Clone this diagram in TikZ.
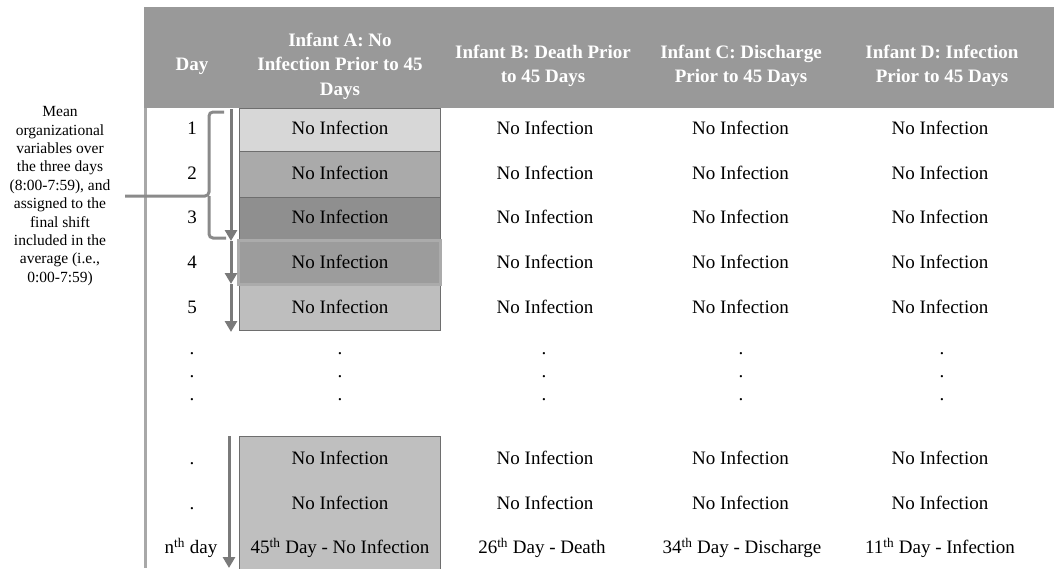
\documentclass[tikz,border=0pt]{standalone}
\usepackage{fontspec}
\setmainfont{Liberation Serif}
\usetikzlibrary{arrows.meta}
\definecolor{hdr}{HTML}{999999}
\definecolor{cA}{HTML}{D7D7D7}
\definecolor{cB}{HTML}{AAAAAA}
\definecolor{cC}{HTML}{8F8F8F}
\definecolor{cD}{HTML}{9C9C9C}
\definecolor{cDb}{HTML}{ABABAB}
\definecolor{cE}{HTML}{BEBEBE}
\definecolor{cF}{HTML}{BFBFBF}
\definecolor{bord}{HTML}{6E6E6E}
\definecolor{bracec}{HTML}{8A8A8A}
\definecolor{arrc}{HTML}{7A7A7A}
\definecolor{tbord}{HTML}{A8A8A8}
\tikzset{
  hdrtext/.style={text=white, font=\fontsize{19}{24.5}\selectfont\bfseries, align=center, inner sep=0pt},
  bodytext/.style={font=\fontsize{19}{22}\selectfont, anchor=base, inner sep=0pt},
  annot/.style={font=\fontsize{15.5}{18.4}\selectfont, align=center, inner sep=0pt},
  abox/.style={draw=bord, line width=1pt, inner sep=0pt},
  bracepath/.style={draw=bracec, line width=3pt, rounded corners=4pt},
  dayarrow/.style={draw=arrc, line width=3pt, -{Triangle[width=12pt,length=11pt]}},
}
\begin{document}
\begin{tikzpicture}[x=1pt,y=-1pt]
\useasboundingbox (0,0) rectangle (1054,568);
% header
\node[fill=hdr, inner sep=0pt, minimum width=910pt, minimum height=101pt] (hdrbar) at (599,57.5) {};
\node[hdrtext] (hday) at (192,66) {Day};
\node[hdrtext] (hA) at (340,66) {Infant A: No\\Infection Prior to 45\\Days};
\node[hdrtext] (hB) at (543,66) {Infant B: Death Prior\\to 45 Days};
\node[hdrtext] (hC) at (741,66) {Infant C: Discharge\\Prior to 45 Days};
\node[hdrtext] (hD) at (942,66) {Infant D: Infection\\Prior to 45 Days};
% left border of table
\coordinate (bt) at (145,108);
\coordinate (bb) at (145,568);
\draw[tbord, line width=3pt] (bt) -- (bb);
% Infant A boxes
\node[abox, fill=cA, minimum width=201pt, minimum height=43pt] (a1) at (339.5,129.5) {};
\node[abox, fill=cB, minimum width=201pt, minimum height=46pt] (a2) at (339.5,174) {};
\node[abox, fill=cC, minimum width=201pt, minimum height=43pt] (a3) at (339.5,218.5) {};
\node[abox, fill=cE, minimum width=201pt, minimum height=45pt] (a5) at (339.5,307.5) {};
\node[draw=cDb, fill=cD, line width=3pt, inner sep=0pt, minimum width=202pt, minimum height=44pt] (a4) at (339.5,262.5) {};
\node[abox, fill=cF, minimum width=201pt, minimum height=134pt] (a6) at (339.5,503) {};
% brace
\coordinate (br1) at (224,112);
\coordinate (br2) at (209,112);
\coordinate (br3) at (209,196);
\coordinate (brtip) at (125,196);
\coordinate (br4) at (209,238);
\coordinate (br5) at (226,238);
\draw[bracepath] (br1) -- (br2) -- (br3) -- (brtip);
\draw[bracepath] (br3) -- (br4) -- (br5);
% arrows
\coordinate (ar0) at (231,109);
\coordinate (ar1) at (231,241);
\coordinate (ar2) at (231,284);
\coordinate (ar3) at (231,332);
\draw[dayarrow] (ar0) -- (ar1);
\draw[dayarrow] (ar1) -- (ar2);
\draw[dayarrow] (ar2) -- (ar3);
\coordinate (ar4) at (229,436);
\coordinate (ar5) at (229,568);
\draw[dayarrow] (ar4) -- (ar5);
% annotation
\node[annot] (note) at (60,196) {Mean\\organizational\\variables over\\the three days\\(8:00-7:59), and\\assigned to the\\final shift\\included in the\\average (i.e.,\\0:00-7:59)};
% body rows
\foreach \y/\d [count=\i] in {134.5/1,179.5/2,223.5/3,268.5/4,313.5/5}{
  \node[bodytext] (d\i) at (192,\y) {\d};
  \node[bodytext] (tA\i) at (340,\y) {No Infection};
  \node[bodytext] (tB\i) at (545,\y) {No Infection};
  \node[bodytext] (tC\i) at (740.5,\y) {No Infection};
  \node[bodytext] (tD\i) at (940,\y) {No Infection};
}
\foreach \y [count=\i] in {354,377,400}{
  \node[bodytext] (dd\i) at (192,\y) {.};
  \node[bodytext] (dA\i) at (340,\y) {.};
  \node[bodytext] (dB\i) at (544,\y) {.};
  \node[bodytext] (dC\i) at (741,\y) {.};
  \node[bodytext] (dD\i) at (942,\y) {.};
}
\foreach \y [count=\i] in {464.5,509.5}{
  \node[bodytext] (ld\i) at (192,\y) {.};
  \node[bodytext] (lA\i) at (340,\y) {No Infection};
  \node[bodytext] (lB\i) at (545,\y) {No Infection};
  \node[bodytext] (lC\i) at (740.5,\y) {No Infection};
  \node[bodytext] (lD\i) at (940,\y) {No Infection};
}
\node[bodytext] (nday) at (191,553.5) {n\textsuperscript{th} day};
\node[bodytext] (fA) at (340,553.5) {45\textsuperscript{th} Day - No Infection};
\node[bodytext] (fB) at (542,553.5) {26\textsuperscript{th} Day - Death};
\node[bodytext] (fC) at (742,553.5) {34\textsuperscript{th} Day - Discharge};
\node[bodytext] (fD) at (940,553.5) {11\textsuperscript{th} Day - Infection};
\end{tikzpicture}
\end{document}
